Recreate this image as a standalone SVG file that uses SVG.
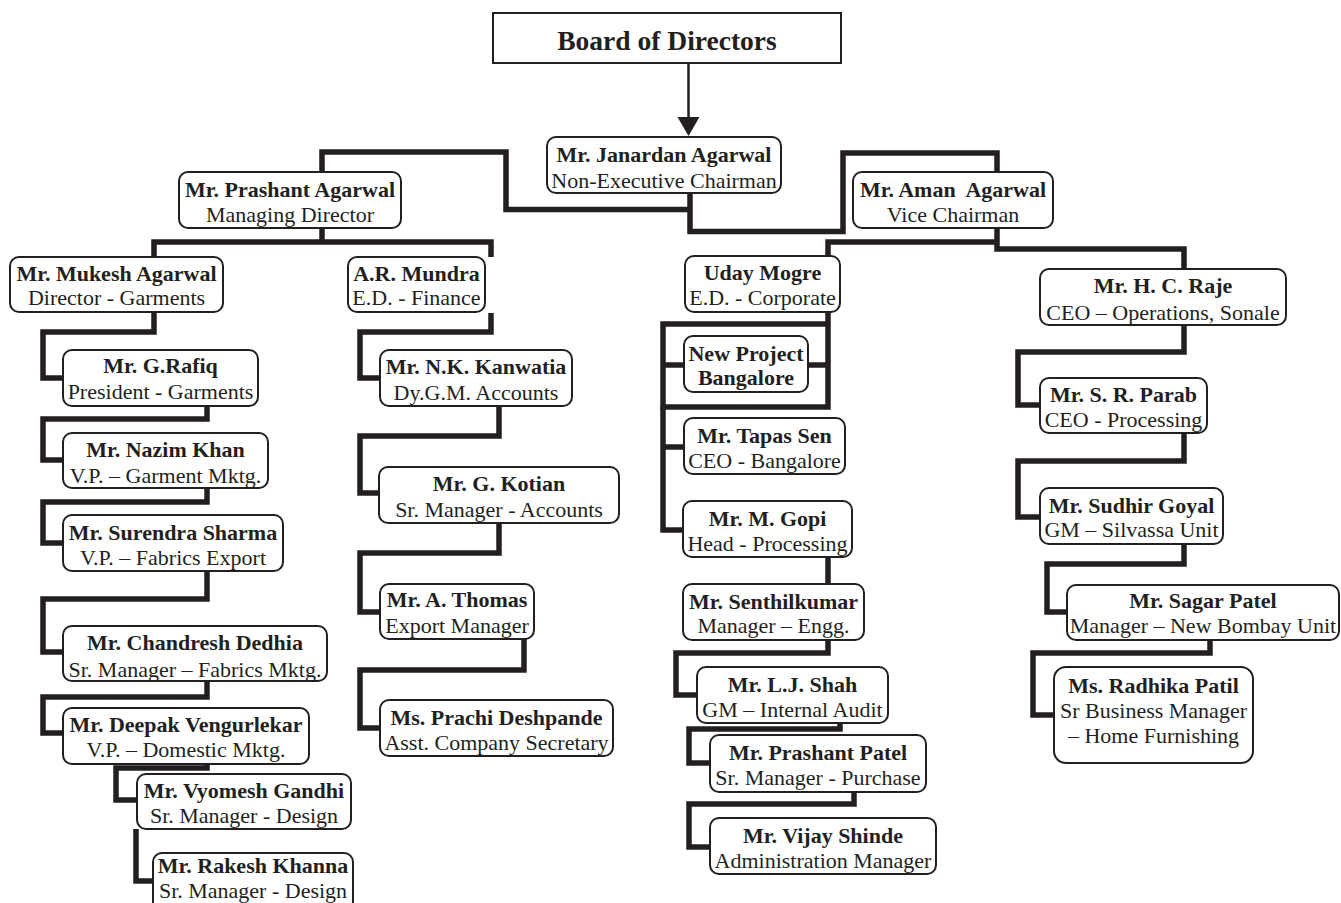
<svg xmlns="http://www.w3.org/2000/svg" width="1341" height="903" viewBox="0 0 1341 903">
<style>
.box{fill:#fff;stroke:#231f20;stroke-width:2}
.n{font-family:"Liberation Serif","Times New Roman",serif;font-weight:bold;font-size:22px;fill:#231f20;text-anchor:middle}
.r{font-family:"Liberation Serif","Times New Roman",serif;font-size:22px;fill:#231f20;text-anchor:middle}
.c{fill:none;stroke:#231f20;stroke-width:5.5;stroke-linejoin:miter;stroke-linecap:butt}
</style>
<rect width="1341" height="903" fill="#fff"/>
<g id="connectors">
<line x1="688.5" y1="63" x2="688.5" y2="118" stroke="#231f20" stroke-width="2.5"/>
<polygon points="677.5,117 699.5,117 688.5,136" fill="#231f20"/>
<path class="c" d="M690,193 V231.5 H843 V153 H997 V172"/>
<path class="c" d="M690,209.5 H506 V152 H322 V172"/>
<path class="c" d="M322,228 V242"/>
<path class="c" d="M154,257 V242 H491 V257"/>
<path class="c" d="M154,312 V332 H43 V378 H63"/>
<path class="c" d="M207,406 V419 H43 V460 H63"/>
<path class="c" d="M207,488 V502 H43 V543 H63"/>
<path class="c" d="M207,571 V599 H43 V652 H63"/>
<path class="c" d="M207,681 V697 H43 V733 H63"/>
<path class="c" d="M207,764 V768 H116 V800 H137"/>
<path class="c" d="M136,829 V881 H153"/>
<path class="c" d="M491,313 V332 H360 V378 H380"/>
<path class="c" d="M499,406 V436 H360 V493 H379"/>
<path class="c" d="M499,523 V553 H360 V612 H380"/>
<path class="c" d="M524,639 V670 H360 V728 H380"/>
<path class="c" d="M997,228 V249 H1184 V269"/>
<path class="c" d="M997,242 H828 V300"/>
<path class="c" d="M828,300 V407 H663 V324 H828"/>
<path class="c" d="M663,365 H684 M808,365 H828"/>
<path class="c" d="M663,407 V530 H683 M663,447 H684"/>
<path class="c" d="M828,557 V584"/>
<path class="c" d="M828,640 V653 H676 V695 H697"/>
<path class="c" d="M840,723 V729 H689 V763 H710"/>
<path class="c" d="M854,792 V804 H689 V847 H710"/>
<path class="c" d="M1184,325 V352 H1018 V405 H1040"/>
<path class="c" d="M1184,433 V461 H1018 V517 H1040"/>
<path class="c" d="M1184,544 V564 H1047 V612 H1067"/>
<path class="c" d="M1210,640 V653 H1033 V715 H1054"/>
</g>
<g id="board"><rect class="box" x="493" y="13" width="348" height="50"/><text class="n" x="667" y="50" style="font-size:27.5px">Board of Directors</text></g>
<g id="janardan"><rect class="box" x="547" y="137" width="234" height="56" rx="9"/><text class="n" x="664" y="162">Mr. Janardan Agarwal</text><text class="r" x="664" y="188">Non-Executive Chairman</text></g>
<g id="prashant"><rect class="box" x="179" y="172" width="222" height="56" rx="9"/><text class="n" x="290" y="197">Mr. Prashant Agarwal</text><text class="r" x="290" y="222">Managing Director</text></g>
<g id="aman"><rect class="box" x="853" y="172" width="200" height="56" rx="9"/><text class="n" x="953" y="197" xml:space="preserve">Mr. Aman  Agarwal</text><text class="r" x="953" y="222">Vice Chairman</text></g>
<g id="mukesh"><rect class="box" x="10" y="257" width="213" height="55" rx="9"/><text class="n" x="116.5" y="281">Mr. Mukesh Agarwal</text><text class="r" x="116.5" y="305">Director - Garments</text></g>
<g id="mundra"><rect class="box" x="348" y="257" width="137" height="55" rx="9"/><text class="n" x="416.5" y="281">A.R. Mundra</text><text class="r" x="416.5" y="305">E.D. - Finance</text></g>
<g id="uday"><rect class="box" x="685" y="256" width="155" height="56" rx="9"/><text class="n" x="762.5" y="280">Uday Mogre</text><text class="r" x="762.5" y="305">E.D. - Corporate</text></g>
<g id="raje"><rect class="box" x="1040" y="269" width="246" height="56" rx="9"/><text class="n" x="1163" y="293">Mr. H. C. Raje</text><text class="r" x="1163" y="320">CEO – Operations, Sonale</text></g>
<g id="rafiq"><rect class="box" x="63" y="350" width="195" height="56" rx="9"/><text class="n" x="160.5" y="373">Mr. G.Rafiq</text><text class="r" x="160.5" y="399">President - Garments</text></g>
<g id="nazim"><rect class="box" x="63" y="433" width="205" height="55" rx="9"/><text class="n" x="165.5" y="457">Mr. Nazim Khan</text><text class="r" x="165.5" y="483">V.P. – Garment Mktg.</text></g>
<g id="surendra"><rect class="box" x="63" y="515" width="220" height="56" rx="9"/><text class="n" x="173" y="540">Mr. Surendra Sharma</text><text class="r" x="173" y="565">V.P. – Fabrics Export</text></g>
<g id="chandresh"><rect class="box" x="63" y="626" width="264" height="55" rx="9"/><text class="n" x="195" y="650">Mr. Chandresh Dedhia</text><text class="r" x="195" y="677">Sr. Manager – Fabrics Mktg.</text></g>
<g id="deepak"><rect class="box" x="63" y="708" width="246" height="56" rx="9"/><text class="n" x="186" y="732">Mr. Deepak Vengurlekar</text><text class="r" x="186" y="757">V.P. – Domestic Mktg.</text></g>
<g id="vyomesh"><rect class="box" x="137" y="774" width="214" height="55" rx="9"/><text class="n" x="244" y="798">Mr. Vyomesh Gandhi</text><text class="r" x="244" y="823">Sr. Manager - Design</text></g>
<g id="rakesh"><rect class="box" x="153" y="853" width="200" height="60" rx="9"/><text class="n" x="253" y="873">Mr. Rakesh Khanna</text><text class="r" x="253" y="898">Sr. Manager - Design</text></g>
<g id="kanwatia"><rect class="box" x="380" y="350" width="192" height="56" rx="9"/><text class="n" x="476" y="374">Mr. N.K. Kanwatia</text><text class="r" x="476" y="400">Dy.G.M. Accounts</text></g>
<g id="kotian"><rect class="box" x="379" y="467" width="240" height="56" rx="9"/><text class="n" x="499" y="491">Mr. G. Kotian</text><text class="r" x="499" y="517">Sr. Manager - Accounts</text></g>
<g id="thomas"><rect class="box" x="380" y="584" width="154" height="55" rx="9"/><text class="n" x="457" y="607">Mr. A. Thomas</text><text class="r" x="457" y="633">Export Manager</text></g>
<g id="prachi"><rect class="box" x="380" y="700" width="233" height="56" rx="9"/><text class="n" x="496.5" y="725">Ms. Prachi Deshpande</text><text class="r" x="496.5" y="750">Asst. Company Secretary</text></g>
<g id="newproject"><rect class="box" x="684" y="336" width="124" height="56" rx="9"/><text class="n" x="746" y="361">New Project</text><text class="n" x="746" y="385">Bangalore</text></g>
<g id="tapas"><rect class="box" x="684" y="418" width="161" height="56" rx="9"/><text class="n" x="764.5" y="443">Mr. Tapas Sen</text><text class="r" x="764.5" y="468">CEO - Bangalore</text></g>
<g id="gopi"><rect class="box" x="683" y="501" width="169" height="56" rx="9"/><text class="n" x="767.5" y="526">Mr. M. Gopi</text><text class="r" x="767.5" y="551">Head - Processing</text></g>
<g id="senthil"><rect class="box" x="683" y="584" width="181" height="56" rx="9"/><text class="n" x="773.5" y="609">Mr. Senthilkumar</text><text class="r" x="773.5" y="633">Manager – Engg.</text></g>
<g id="shah"><rect class="box" x="697" y="667" width="191" height="56" rx="9"/><text class="n" x="792.5" y="692">Mr. L.J. Shah</text><text class="r" x="792.5" y="717">GM – Internal Audit</text></g>
<g id="ppatel"><rect class="box" x="710" y="735" width="216" height="57" rx="9"/><text class="n" x="818" y="760">Mr. Prashant Patel</text><text class="r" x="818" y="785">Sr. Manager - Purchase</text></g>
<g id="shinde"><rect class="box" x="710" y="818" width="226" height="56" rx="9"/><text class="n" x="823" y="843">Mr. Vijay Shinde</text><text class="r" x="823" y="868">Administration Manager</text></g>
<g id="parab"><rect class="box" x="1040" y="378" width="167" height="55" rx="9"/><text class="n" x="1123.5" y="402">Mr. S. R. Parab</text><text class="r" x="1123.5" y="427">CEO - Processing</text></g>
<g id="goyal"><rect class="box" x="1040" y="488" width="183" height="56" rx="9"/><text class="n" x="1131.5" y="513">Mr. Sudhir Goyal</text><text class="r" x="1131.5" y="537">GM – Silvassa Unit</text></g>
<g id="sagar"><rect class="box" x="1067" y="585" width="272" height="55" rx="9"/><text class="n" x="1203" y="608">Mr. Sagar Patel</text><text class="r" x="1203" y="633">Manager – New Bombay Unit</text></g>
<g id="radhika"><rect class="box" x="1054" y="667" width="199" height="96" rx="12"/><text class="n" x="1153.5" y="693">Ms. Radhika Patil</text><text class="r" x="1153.5" y="718">Sr Business Manager</text><text class="r" x="1153.5" y="743">– Home Furnishing</text></g>
</svg>
